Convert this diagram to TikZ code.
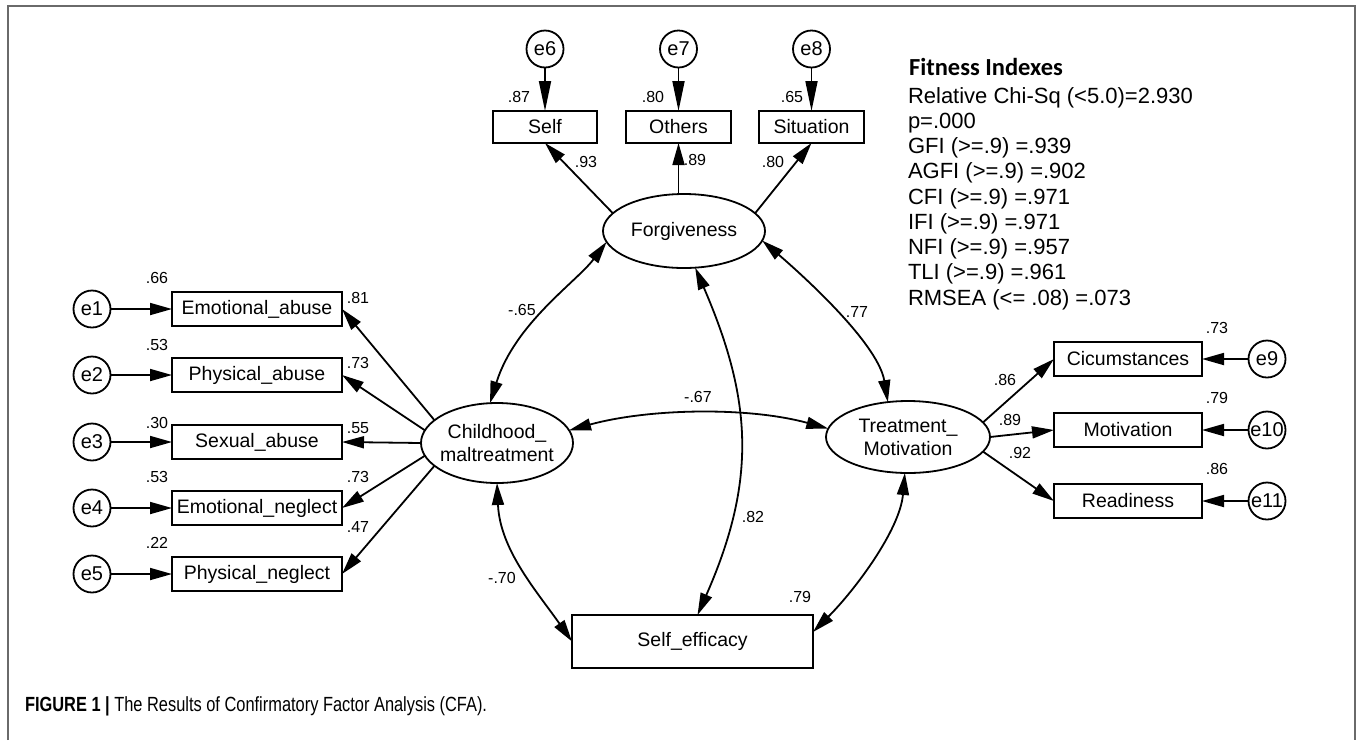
\documentclass[tikz,border=0pt]{standalone}
\usepackage{fontspec}
\setmainfont{Liberation Sans}
\newfontfamily\headfont{Carlito}
\newfontfamily\capfont[FakeStretch=0.8]{Liberation Sans}
\usetikzlibrary{arrows.meta,shapes.geometric,calc}

\definecolor{framegray}{HTML}{6A6A6A}

\begin{document}
\begin{tikzpicture}[x=1pt,y=-1pt,
  every node/.style={inner sep=0pt,outer sep=0pt},
  line width=1.8pt,
  >={Triangle[length=22pt,width=12pt]},
  errc/.style={circle,draw,minimum size=37pt,
    label={[font=\fontsize{20}{20}\selectfont]center:#1}},
  obs/.style={rectangle,draw,minimum height=34pt,
    font=\fontsize{19.5}{20}\selectfont},
  lat/.style={ellipse,draw},
  lattext/.style={font=\fontsize{19.5}{23}\selectfont,align=center},
  coef/.style={font=\fontsize{16}{16}\selectfont},
  load/.style={->},
  cov/.style={<->},
  errpath/.style={-{Triangle[length=30pt,width=12pt]}},
  fit/.style={font=\fontsize{22}{25.25}\selectfont,align=left,anchor=base west},
]
\useasboundingbox (0,0) rectangle (1357,740);

% open frame (top, left and right sides)
\draw[framegray,line width=1.8pt] (8,740) -- (8,6) -- (1355,6) -- (1355,740);

% ---------- latent variables ----------
\node[lat,minimum width=162pt,minimum height=74pt] (forg) at (684,231) {};
\node[lattext] (forgt) at (forg.center) {Forgiveness};
\node[lat,minimum width=152pt,minimum height=80pt] (child) at (497,443) {};
\node[lattext] (childt) at (child.center) {Childhood\_\\maltreatment};
\node[lat,minimum width=164pt,minimum height=72pt] (treat) at (908,437) {};
\node[lattext] (treatt) at (treat.center) {Treatment\_\\Motivation};
\node[obs,minimum width=241pt,minimum height=53pt] (selfeff) at (692.5,641.5) {Self\_efficacy};

% ---------- childhood maltreatment indicators ----------
\node[obs,minimum width=170pt] (ea) at (257,309) {Emotional\_abuse};
\node[obs,minimum width=170pt] (pa) at (257,375) {Physical\_abuse};
\node[obs,minimum width=170pt] (sa) at (257,442) {Sexual\_abuse};
\node[obs,minimum width=170pt] (en) at (257,508) {Emotional\_neglect};
\node[obs,minimum width=170pt] (pn) at (257,574) {Physical\_neglect};
\node[errc=e1] (e1) at (92,309) {};
\node[errc=e2] (e2) at (92,375) {};
\node[errc=e3] (e3) at (92,442) {};
\node[errc=e4] (e4) at (92,508) {};
\node[errc=e5] (e5) at (92,574) {};
\foreach \e/\b in {e1/ea,e2/pa,e3/sa,e4/en,e5/pn}
  \draw[load] (\e) -- (\b);
\draw[load] (child.160) -- (ea.east);
\draw[load] (child.170) -- (pa.east);
\draw[load] (child.180) -- (sa.east);
\draw[load] (child.190) -- (en.east);
\draw[load] (child.200) -- (pn.east);

% ---------- forgiveness indicators ----------
\node[obs,minimum width=104pt,minimum height=32pt] (selfb) at (545,127) {Self};
\node[obs,minimum width=105pt,minimum height=32pt] (others) at (678.5,127) {Others};
\node[obs,minimum width=105pt,minimum height=32pt] (sit) at (811.5,127) {Situation};
\node[errc=e6] (e6) at (545,49) {};
\node[errc=e7] (e7) at (678.5,49) {};
\node[errc=e8] (e8) at (811.5,49) {};
\draw[errpath] (e6) -- (selfb);
\draw[errpath] (e7) -- (others);
\draw[errpath] (e8) -- (sit);
\draw[load] (forg.166) -- (selfb.south);
\draw[load] (forg.north -| others.south) -- (others.south);
\draw[load] (forg.14) -- (sit.south);

% ---------- treatment motivation indicators ----------
\node[obs,minimum width=148pt] (cic) at (1128,359) {Cicumstances};
\node[obs,minimum width=148pt] (mot) at (1128,430) {Motivation};
\node[obs,minimum width=148pt] (read) at (1128,501) {Readiness};
\node[errc=e9] (e9) at (1267,359) {};
\node[errc=e10] (e10) at (1267,430) {};
\node[errc=e11] (e11) at (1267,501) {};
\foreach \e/\b in {e9/cic,e10/mot,e11/read}
  \draw[load] (\e) -- (\b);
\draw[load] (treat.11) -- (cic.west);
\draw[load] (treat.0) -- (mot.west);
\draw[load] (treat.349) -- (read.west);

% ---------- covariances ----------
\draw[cov] (forg.188) .. controls +(-30,40) and +(25,-80) .. (child.100);
\draw[cov] (forg.353) .. controls +(35,30) and +(-10,-60) .. (treat.120);
\draw[cov] (child.10) .. controls +(80,-22) and +(-80,-22) .. (treat.174);
\draw[cov] (forg.287) .. controls +(57,132) and +(59.5,-135) .. ($(selfeff.north)+(5,0)$);
\draw[cov] (child.south) .. controls +(3,67) and +(-35,-50) .. (selfeff.west);
\draw[cov] (treat.265) .. controls +(-5,57) and +(42,-42) .. ($(selfeff.east)+(0,-9.5)$);

% ---------- coefficients ----------
\node[coef] (c66) at (157,278) {.66};
\node[coef] (c53a) at (157,345) {.53};
\node[coef] (c30) at (157,423) {.30};
\node[coef] (c53b) at (157,477) {.53};
\node[coef] (c22) at (157,543) {.22};
\node[coef] (c81) at (358,298) {.81};
\node[coef] (c73a) at (358,363) {.73};
\node[coef] (c55) at (358,428) {.55};
\node[coef] (c73b) at (358,477) {.73};
\node[coef] (c47) at (358,527) {.47};

\node[coef] (c87) at (519,97) {.87};
\node[coef] (c80a) at (653,97) {.80};
\node[coef] (c65) at (792,97) {.65};
\node[coef] (c93) at (586,162) {.93};
\node[coef] (c89a) at (695,160) {.89};
\node[coef] (c80b) at (773,162) {.80};

\node[coef] (c86a) at (1005,380) {.86};
\node[coef] (c89b) at (1010,420) {.89};
\node[coef] (c92) at (1020,453) {.92};
\node[coef] (c73c) at (1217,328) {.73};
\node[coef] (c79a) at (1217,398) {.79};
\node[coef] (c86b) at (1217,469) {.86};

\node[coef] (r65) at (522,310) {-.65};
\node[coef] (r77) at (857,312) {.77};
\node[coef] (r67) at (698,397) {-.67};
\node[coef] (r82) at (753,517) {.82};
\node[coef] (r70) at (502,578) {-.70};
\node[coef] (r79) at (800,597) {.79};

% ---------- fit indices ----------
\node[anchor=west,font=\headfont\bfseries\fontsize{24.5}{25}\selectfont] (fithead) at (909,67) {Fitness Indexes};
\node[fit] (fitlist) at (908,305) {Relative Chi-Sq (<5.0)=2.930\\
p=.000\\
GFI (>=.9) =.939\\
AGFI (>=.9) =.902\\
CFI (>=.9) =.971\\
IFI (>=.9) =.971\\
NFI (>=.9) =.957\\
TLI (>=.9) =.961\\
RMSEA (<= .08) =.073};

% ---------- caption ----------
\node[anchor=west,font=\capfont\fontsize{20.5}{22}\selectfont] (caption) at (25,706)
  {\textbf{FIGURE 1 |} The Results of Confirmatory Factor Analysis (CFA).};
\end{tikzpicture}
\end{document}
